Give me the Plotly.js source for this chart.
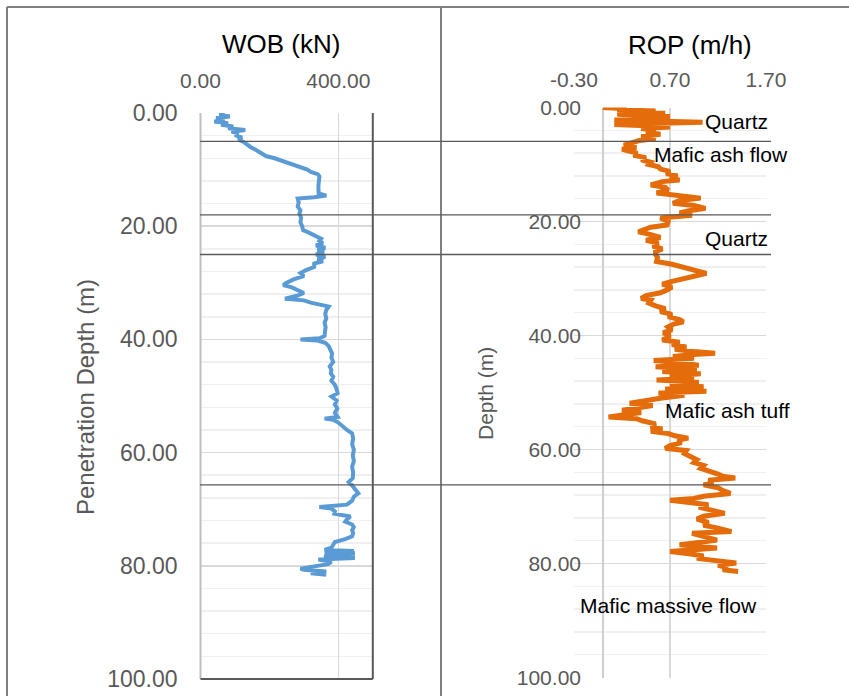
<!DOCTYPE html>
<html>
<head>
<meta charset="utf-8">
<script src="https://cdn.plot.ly/plotly-3.0.1.min.js"></script>
<style>html,body{margin:0;padding:0;background:#fff;}#chart{width:849px;height:696px;}</style>
</head>
<body>
<div id="chart"></div>
<script>
// ---- DATA ----
var wobDepth = [0.0,0.3,0.6,0.9,1.2,1.5,1.8,2.1,2.4,2.7,3.0,3.3,3.6,3.9,4.3,4.7,5.1,5.6,6.0,6.5,7.1,7.6,8.0,8.4,8.8,9.2,9.6,10.0,10.4,10.8,11.2,12.0,13.0,14.2,14.6,14.9,15.1,15.8,16.5,17.2,17.8,18.5,19.3,20.0,20.7,21.0,21.4,21.8,22.2,22.6,23.0,23.4,23.8,24.2,24.6,25.0,25.4,25.8,26.2,26.6,27.2,27.8,28.3,28.8,29.4,30.0,30.4,30.8,31.3,31.8,32.3,32.8,33.1,33.5,33.9,34.2,34.8,35.5,36.3,37.0,37.8,38.6,39.4,39.8,40.0,40.2,40.6,41.2,41.8,42.5,43.2,44.0,44.8,45.4,46.0,46.6,47.3,48.0,48.8,49.5,50.1,50.8,51.5,52.2,53.0,53.7,54.0,54.2,54.7,55.3,56.0,56.6,57.5,58.5,59.5,60.5,61.5,62.5,63.5,64.5,65.2,65.8,66.5,67.2,67.8,68.5,69.2,69.6,69.9,70.4,70.8,71.3,71.8,72.2,72.7,73.2,73.7,74.2,74.8,75.3,75.8,76.3,76.8,77.2,77.4,77.6,77.8,78.0,78.2,78.4,78.6,78.9,79.3,79.7,80.1,80.5,80.7,81.0,81.3,81.6];
var wobValue = [70,55,85,45,70,40,80,60,95,80,130,90,110,100,120,110,125,135,145,160,175,190,215,235,255,275,290,310,320,340,345,343,342,343,365,330,282,285,282,290,287,292,290,295,298,310,325,335,350,345,355,335,362,340,358,335,362,340,355,330,330,305,290,300,270,250,240,265,285,300,280,245,300,320,350,372,365,362,365,360,363,362,360,345,290,340,362,372,378,382,380,385,375,380,378,385,380,390,395,398,380,395,390,397,390,398,360,385,400,410,425,440,443,440,445,442,445,440,443,442,430,440,450,458,445,440,425,345,380,390,388,435,425,420,440,445,440,443,440,420,390,385,380,360,445,360,448,360,448,358,448,342,380,370,320,290,300,365,320,365];

var ropDepth = [0.0,0.2,0.4,0.6,0.8,1.0,1.2,1.4,1.6,1.8,2.0,2.2,2.4,2.6,2.8,3.0,3.2,3.4,3.7,4.0,4.3,4.7,5.1,5.5,5.8,6.2,6.6,7.0,7.3,7.6,8.0,8.4,8.8,9.2,9.6,10.0,10.4,10.8,11.2,11.6,12.0,12.3,12.7,13.0,13.3,13.6,14.0,14.5,15.0,15.5,15.9,16.3,16.8,17.2,17.7,18.1,18.5,18.9,19.4,20.0,20.6,21.0,21.4,21.8,22.3,22.8,23.3,23.8,24.3,24.8,25.3,25.8,26.3,27.0,27.5,28.0,28.5,29.1,29.6,30.1,30.6,31.0,31.5,32.0,32.5,33.0,33.5,33.8,34.3,34.8,35.3,35.8,36.3,36.7,37.2,37.6,38.0,38.5,39.0,39.5,40.0,40.5,40.8,41.2,41.6,42.0,42.4,42.8,43.1,43.4,43.7,44.0,44.4,44.8,45.2,45.5,45.9,46.3,46.7,47.1,47.5,47.8,48.2,48.6,49.0,49.4,49.8,50.1,50.5,51.0,51.5,51.9,52.3,52.7,53.1,53.5,53.9,54.3,54.6,55.0,55.5,56.0,56.4,56.8,57.2,57.6,58.0,58.4,58.8,59.3,59.8,60.2,60.7,61.2,61.8,62.3,62.8,63.3,63.8,64.3,64.7,65.0,65.4,65.8,66.2,66.7,67.2,67.7,68.2,68.6,68.9,69.3,69.7,70.1,70.6,71.2,71.7,72.2,72.8,73.3,73.8,74.4,74.7,75.2,75.9,76.3,76.7,77.0,77.3,77.6,77.9,78.3,78.7,79.1,79.5,79.9,80.3,80.7,81.1,81.4];
var ropValue = [0.00,0.25,0.15,0.55,0.20,0.65,0.15,0.45,0.70,0.25,0.60,0.12,0.60,1.04,0.50,0.12,0.45,0.70,0.40,0.55,0.45,0.60,0.40,0.55,0.38,0.30,0.22,0.35,0.20,0.26,0.36,0.32,0.45,0.40,0.50,0.48,0.58,0.60,0.70,0.66,0.78,0.70,0.80,0.62,0.55,0.50,0.65,0.68,0.56,0.85,1.02,0.80,0.73,0.95,1.07,0.90,0.80,0.93,0.60,0.68,0.67,0.50,0.45,0.37,0.50,0.60,0.45,0.58,0.52,0.62,0.55,0.55,0.57,0.56,0.72,0.85,0.98,1.08,0.95,0.80,0.70,0.62,0.72,0.67,0.60,0.45,0.40,0.50,0.48,0.55,0.65,0.60,0.72,0.68,0.80,0.84,0.74,0.68,0.72,0.63,0.70,0.66,0.62,0.80,0.72,0.87,0.75,0.95,1.17,0.90,0.73,0.95,0.53,0.80,1.00,0.55,0.98,0.62,1.02,0.70,0.95,0.56,1.00,0.70,1.05,0.65,1.08,0.58,0.85,0.60,0.45,0.28,0.52,0.30,0.20,0.40,0.18,0.06,0.35,0.42,0.55,0.50,0.62,0.50,0.68,0.75,0.89,0.78,0.82,0.70,0.65,0.87,0.85,0.92,0.98,0.95,1.05,1.02,1.12,1.20,1.25,1.38,1.10,1.15,1.05,1.20,1.25,1.33,1.05,0.95,0.70,0.95,1.10,1.00,1.15,1.27,1.05,0.98,1.10,1.05,1.20,1.34,0.93,1.05,1.19,1.00,0.80,1.00,1.19,0.95,0.70,0.90,1.05,0.98,1.20,1.39,1.20,1.30,1.25,1.41];

var depthTicks = [0,20,40,60,80,100];
var depthTickText = ['0.00','20.00','40.00','60.00','80.00','100.00'];
var wobTicks = [0,400];
var wobTickText = ['0.00','400.00'];
var ropTicks = [-0.3,0.7,1.7];
var ropTickText = ['-0.30','0.70','1.70'];

var boundaries = [5, 18, 25, 65.7];
var layers = [
  {text:'Quartz', x:1.044, y:2.5},
  {text:'Mafic ash flow', x:0.51, y:8.3},
  {text:'Quartz', x:1.044, y:22.9},
  {text:'Mafic ash tuff', x:0.63, y:53.2},
  {text:'Mafic massive flow', x:-0.26, y:87.3}
];

// ---- LAYOUT ----
var W = 849, H = 696;
function px(x){return x/W;}
function py(y){return 1 - y/H;}
var FONT = 'Liberation Sans, Arial, sans-serif';
var GREY = '#595959';

var traces = [
  {x: wobValue, y: wobDepth, xaxis:'x', yaxis:'y', mode:'lines', type:'scatter',
   line:{color:'#5B9BD5', width:4}, hoverinfo:'skip', cliponaxis:true},
  {x: ropValue, y: ropDepth, xaxis:'x2', yaxis:'y2', mode:'lines', type:'scatter',
   line:{color:'#E46C0A', width:5}, hoverinfo:'skip', cliponaxis:true}
];

var L = {x0:200.5, x1:372.8, y0:113, y1:679};
var R = {x0:574, x1:766, y0:107.5, y1:677.5};

var shapes = [];
// outer frames
shapes.push({type:'line', xref:'paper', yref:'paper', x0:px(7), x1:1.01, y0:py(7), y1:py(7), line:{color:'#7f7f7f', width:2}});
shapes.push({type:'line', xref:'paper', yref:'paper', x0:px(7), x1:px(7), y0:py(7), y1:-0.01, line:{color:'#7f7f7f', width:2}});
shapes.push({type:'line', xref:'paper', yref:'paper', x0:px(441), x1:px(441), y0:py(7), y1:-0.01, line:{color:'#7f7f7f', width:2}});
// left plot borders
shapes.push({type:'line', xref:'paper', yref:'paper', x0:px(L.x0), x1:px(L.x0), y0:py(L.y0), y1:py(L.y1), line:{color:'#bfbfbf', width:2}});
shapes.push({type:'line', xref:'paper', yref:'paper', x0:px(L.x1), x1:px(L.x1), y0:py(L.y0), y1:py(L.y1), line:{color:GREY, width:2}});
shapes.push({type:'line', xref:'paper', yref:'paper', x0:px(L.x0), x1:px(L.x1), y0:py(L.y1), y1:py(L.y1), line:{color:GREY, width:2}});
// boundaries
boundaries.forEach(function(d){
  shapes.push({type:'line', xref:'paper', yref:'y', x0:px(200), x1:px(771), y0:d, y1:d, line:{color:GREY, width:1.3}, layer:'above'});
});

var annotations = [
  {text:'WOB (kN)', xref:'paper', yref:'paper', x:px(281), y:py(44), xanchor:'center', yanchor:'middle', showarrow:false, font:{family:FONT, size:26, color:'#000'}},
  {text:'ROP (m/h)', xref:'paper', yref:'paper', x:px(690), y:py(45), xanchor:'center', yanchor:'middle', showarrow:false, font:{family:FONT, size:26, color:'#000'}},
  {text:'Penetration Depth (m)', xref:'paper', yref:'paper', x:px(85), y:py(397), xanchor:'center', yanchor:'middle', textangle:-90, showarrow:false, font:{family:FONT, size:24, color:GREY}},
  {text:'Depth (m)', xref:'paper', yref:'paper', x:px(485), y:py(393), xanchor:'center', yanchor:'middle', textangle:-90, showarrow:false, font:{family:FONT, size:21, color:GREY}}
];
layers.forEach(function(l){
  annotations.push({text:l.text, xref:'x2', yref:'y2', x:l.x, y:l.y, xanchor:'left', yanchor:'middle', showarrow:false, font:{family:FONT, size:21, color:'#000'}});
});

var layout = {
  width: W, height: H,
  margin:{l:0, r:0, t:0, b:0, pad:0},
  paper_bgcolor:'#fff', plot_bgcolor:'#fff',
  showlegend:false,
  font:{family:FONT, color:GREY},
  xaxis:{domain:[px(L.x0), px(L.x1)], range:[0,500], side:'top', anchor:'y',
    tickvals:wobTicks, ticktext:wobTickText, ticks:'', showline:false, zeroline:false,
    showgrid:true, gridcolor:'#d9d9d9', gridwidth:1.5,
    tickfont:{family:FONT, size:21, color:GREY}, ticklabelstandoff:20, fixedrange:true},
  yaxis:{domain:[py(L.y1), py(L.y0)], range:[100,0], anchor:'x',
    tickvals:depthTicks, ticktext:depthTickText, ticks:'', showline:false, zeroline:false,
    showgrid:true, gridcolor:'#d9d9d9', gridwidth:1.5,
    minor:{dtick:4, showgrid:true, gridcolor:'#f0f0f0', gridwidth:1.5, ticks:''},
    tickfont:{family:FONT, size:23, color:GREY}, ticklabelstandoff:22, fixedrange:true},
  xaxis2:{domain:[px(R.x0), px(R.x1)], range:[-0.3,1.7], side:'top', anchor:'y2',
    tickvals:ropTicks, ticktext:ropTickText, ticks:'', showline:false,
    zeroline:true, zerolinecolor:'#cfcfcf', zerolinewidth:1.5,
    showgrid:true, gridcolor:'#d9d9d9', gridwidth:1.5,
    tickfont:{family:FONT, size:21, color:GREY}, ticklabelstandoff:15, fixedrange:true},
  yaxis2:{domain:[py(R.y1), py(R.y0)], range:[100,0], anchor:'x2',
    tickvals:depthTicks, ticktext:depthTickText, ticks:'', showline:false, zeroline:false,
    showgrid:true, gridcolor:'#d9d9d9', gridwidth:1.5,
    minor:{dtick:4, showgrid:true, gridcolor:'#f0f0f0', gridwidth:1.5, ticks:''},
    tickfont:{family:FONT, size:21, color:GREY}, ticklabelstandoff:-8, fixedrange:true},
  shapes: shapes,
  annotations: annotations
};

Plotly.newPlot('chart', traces, layout, {staticPlot:true, displayModeBar:false});
</script>
</body>
</html>
